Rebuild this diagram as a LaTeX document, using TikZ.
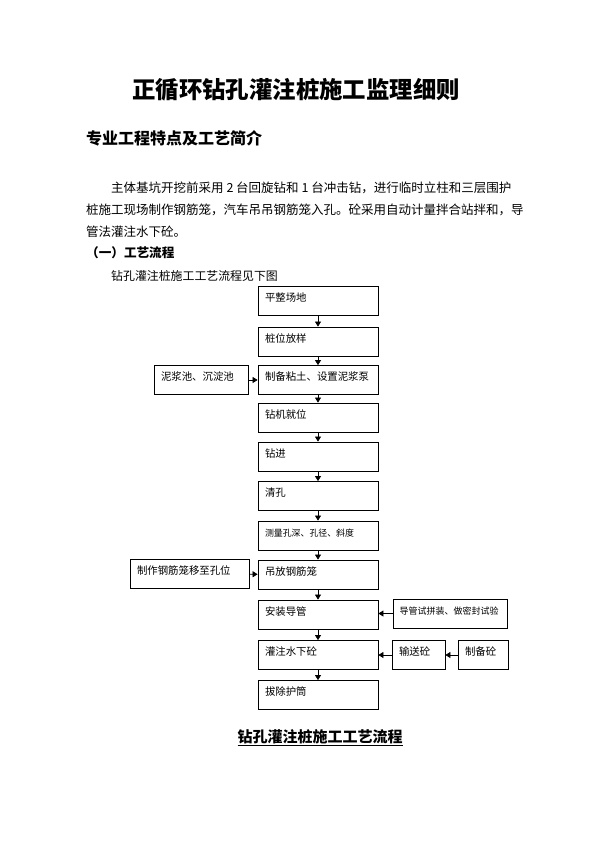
\documentclass[tikz,border=0pt]{standalone}
\usepackage{fontspec}
\setmainfont{Noto Sans CJK SC}
\usetikzlibrary{arrows.meta, positioning}

\newcommand{\fs}[1]{\fontsize{#1}{#1}\selectfont}

\begin{document}
\begin{tikzpicture}[
    x=1pt, y=-1pt,
    every node/.style={font=\fs{10.4}, inner sep=0pt},
    stepbox/.style={draw, line width=0.8pt, align=left, inner xsep=7pt, inner ysep=0pt, text height=15pt, text depth=14pt, text width=#1},
    flow/.style={line width=0.7pt, -{Triangle[width=6pt, length=5pt]}}
]
\useasboundingbox (0,0) rectangle (595,842);

% page text
\node[font=\fs{23.4}\bfseries] (title) at (296, 90) {正循环钻孔灌注桩施工监理细则};
\node[font=\fs{16}\bfseries, anchor=west] (sec) at (86, 138) {专业工程特点及工艺简介};
\node[font=\fs{12.5}, anchor=west] (p1) at (111, 188) {主体基坑开挖前采用 2 台回旋钻和 1 台冲击钻，进行临时立柱和三层围护};
\node[font=\fs{12.5}, anchor=west] (p2) at (86, 210) {桩施工现场制作钢筋笼，汽车吊吊钢筋笼入孔。砼采用自动计量拌合站拌和，导};
\node[font=\fs{12.5}, anchor=west] (p3) at (86, 232) {管法灌注水下砼。};
\node[font=\fs{12.6}\bfseries, anchor=west] (sub) at (86, 253) {（一）工艺流程};
\node[font=\fs{11.9}, anchor=west] (intro) at (111, 276) {钻孔灌注桩施工工艺流程见下图};

% main steps
\node[stepbox=106pt] (pz) at (318, 301) {平整场地};
\node[stepbox=106pt] (zw) at (318, 341.5) {桩位放样};
\node[stepbox=106pt] (nt) at (318, 380) {制备粘土、设置泥浆泵};
\node[stepbox=106pt] (zj) at (318, 417.5) {钻机就位};
\node[stepbox=106pt] (zk) at (318, 456.5) {钻进};
\node[stepbox=106pt] (qk) at (318, 496) {清孔};
\node[stepbox=106pt, font=\fs{8.9}] (cl) at (318, 535.5) {测量孔深、孔径、斜度};
\node[stepbox=106pt] (df) at (318, 574.5) {吊放钢筋笼};
\node[stepbox=106pt] (az) at (318, 614.5) {安装导管};
\node[stepbox=106pt] (gz) at (318, 655) {灌注水下砼};
\node[stepbox=106pt] (bc) at (318, 695) {拔除护筒};

% side steps
\node[stepbox=80pt] (nj) at (201, 380) {泥浆池、沉淀池};
\node[stepbox=105pt] (gj) at (189.5, 574) {制作钢筋笼移至孔位};
\node[stepbox=102pt, inner xsep=6pt, font=\fs{9}] (sy) at (450.5, 613.5) {导管试拼装、做密封试验};
\node[stepbox=39pt] (ss) at (418.5, 655) {输送砼};
\node[stepbox=36pt] (zb) at (483, 655) {制备砼};

\draw[flow] (pz) -- (zw);
\draw[flow] (zw) -- (nt);
\draw[flow] (nt) -- (zj);
\draw[flow] (zj) -- (zk);
\draw[flow] (zk) -- (qk);
\draw[flow] (qk) -- (cl);
\draw[flow] (cl) -- (df);
\draw[flow] (df) -- (az);
\draw[flow] (az) -- (gz);
\draw[flow] (gz) -- (bc);

\draw[flow] (nj) -- (nt);
\draw[flow] (gj) -- (df);
\draw[flow] (sy.west) -- (az.east |- sy.west);
\draw[flow] (ss) -- (gz);
\draw[flow] (zb) -- (ss);

\node[font=\fs{15}\bfseries] (cap) at (320, 738) {\underline{钻孔灌注桩施工工艺流程}};
\end{tikzpicture}
\end{document}
